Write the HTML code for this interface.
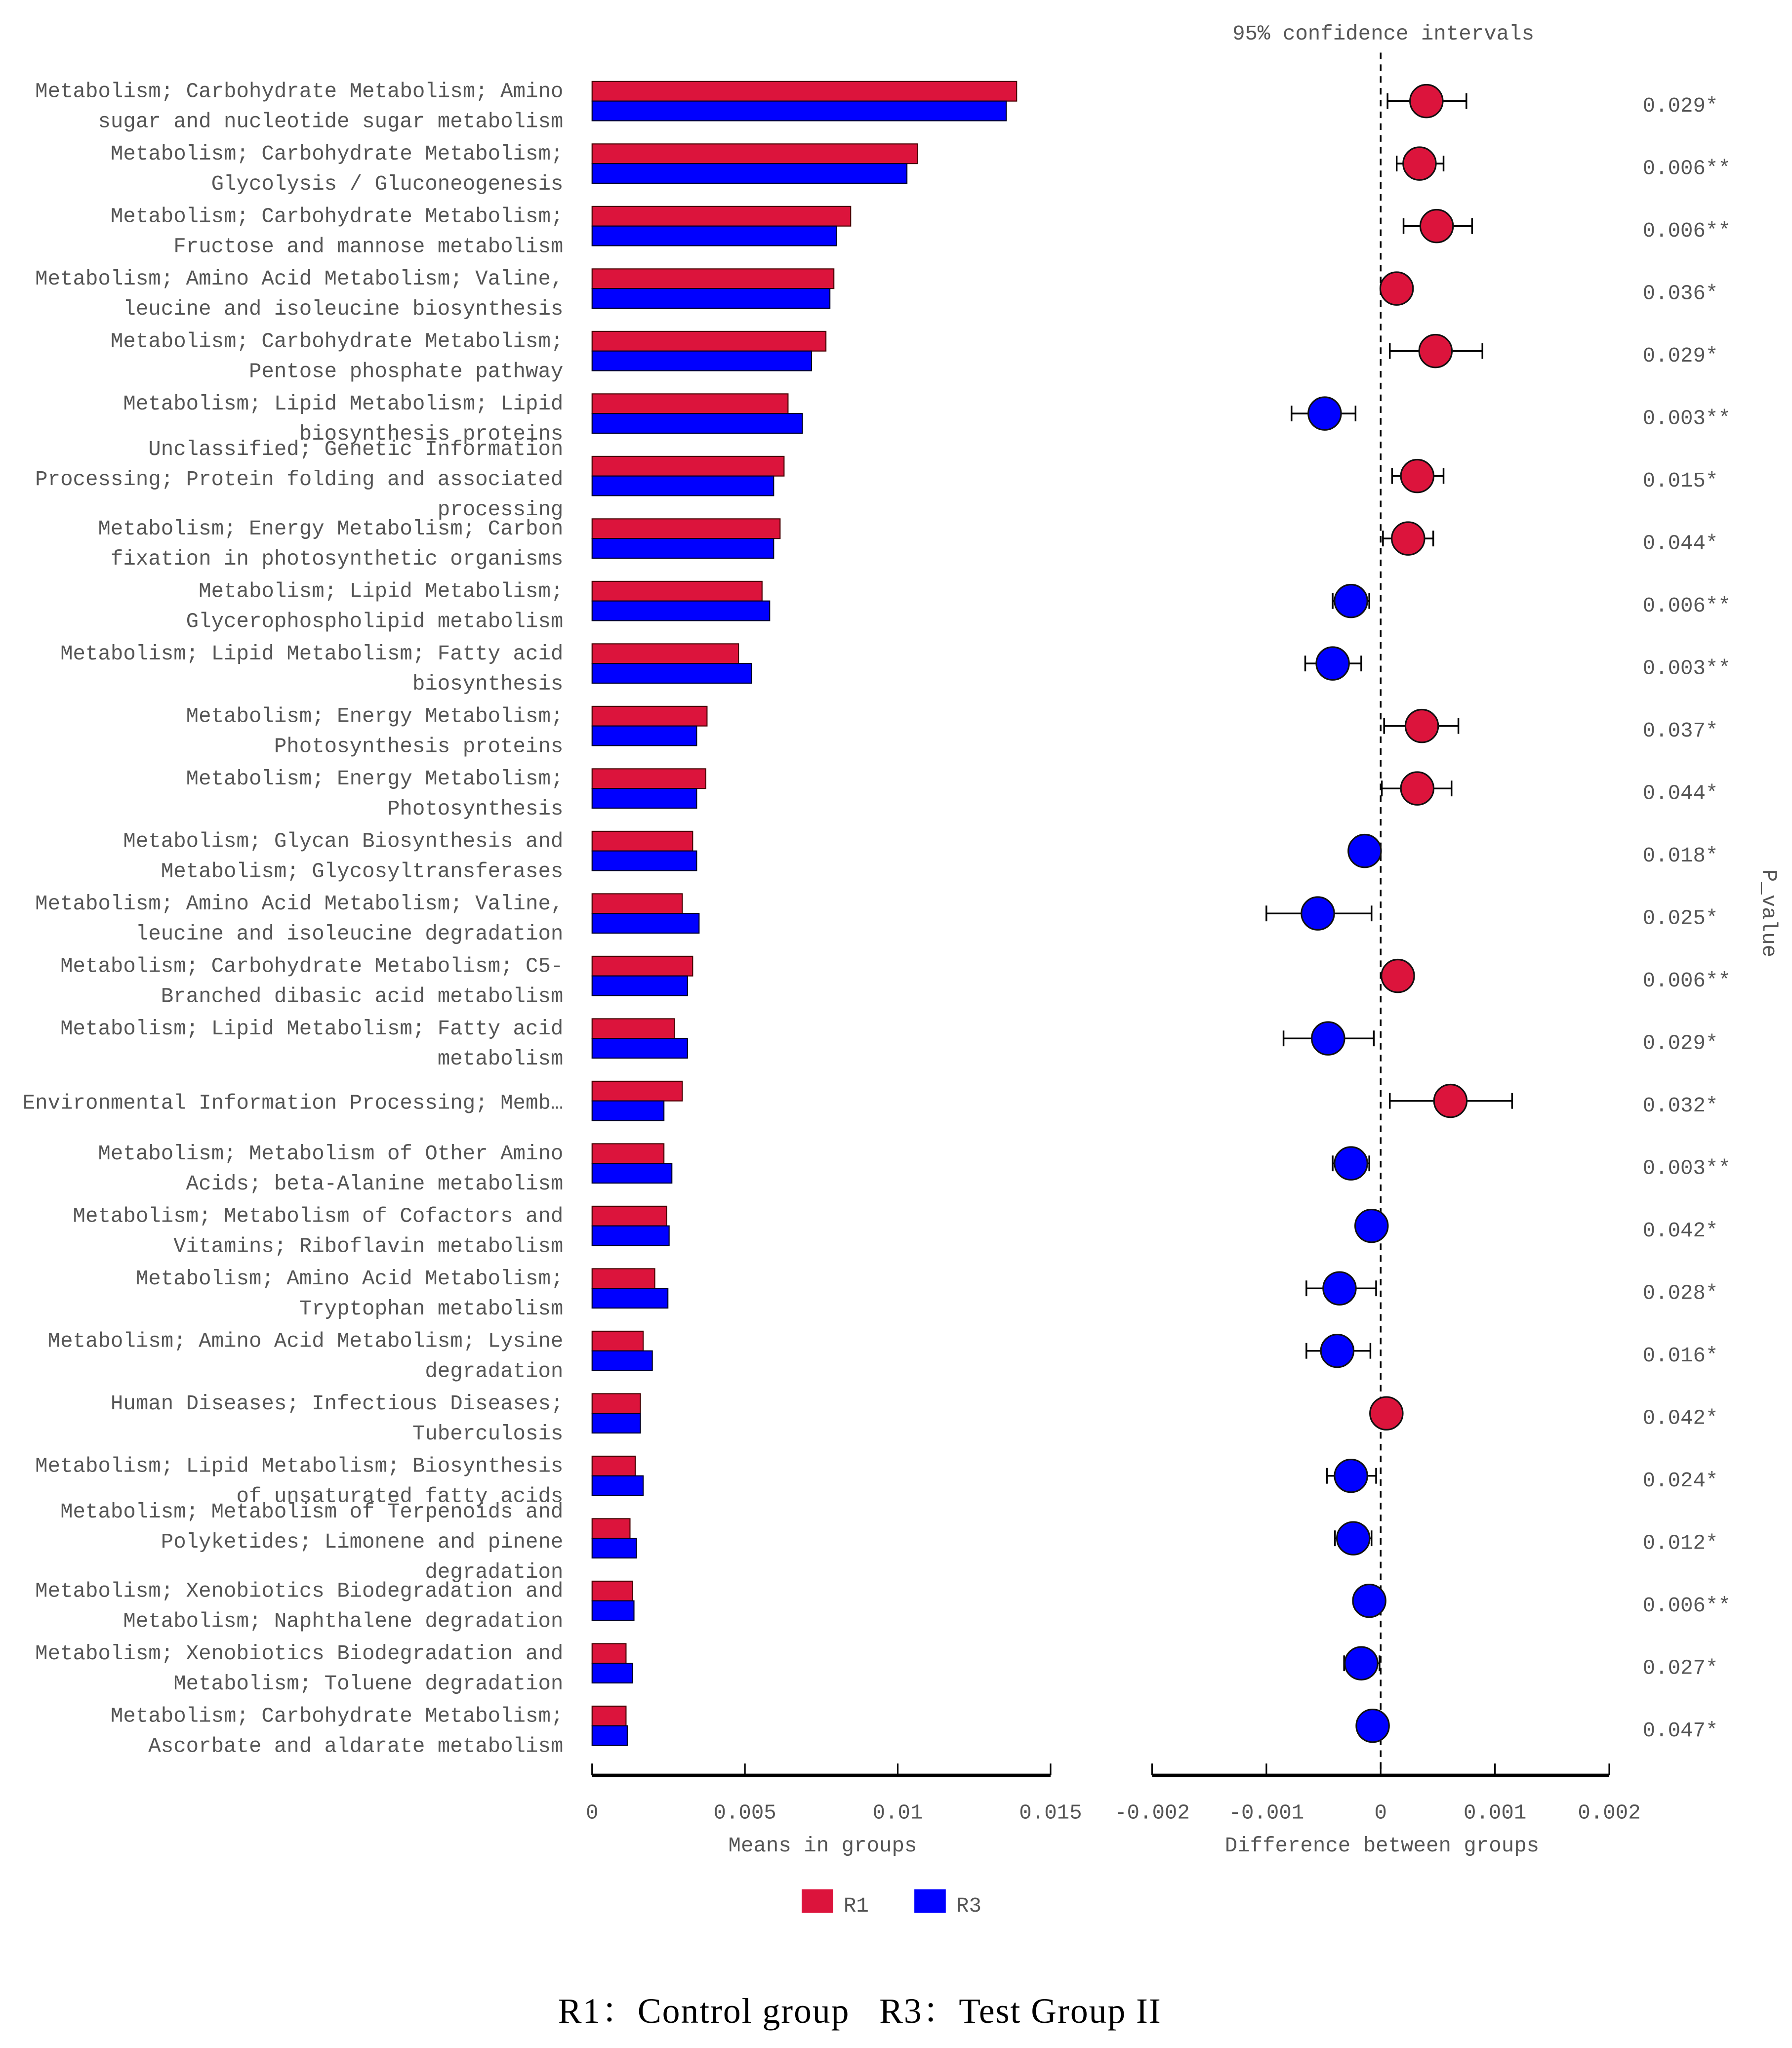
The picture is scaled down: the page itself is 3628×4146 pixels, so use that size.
<!DOCTYPE html>
<html><head><meta charset="utf-8"><style>
html,body{margin:0;padding:0;background:#fff;}
svg{display:block;}
text{font-family:"Liberation Mono","Noto Sans CJK SC",monospace;fill:#555;}
</style></head><body>
<svg id="chart" width="3628" height="4146" viewBox="0 0 1368 1563" xmlns="http://www.w3.org/2000/svg">
<g id="g"></g>
</svg>
<script>
const labels1 = ["Metabolism; Carbohydrate Metabolism; Amino","Metabolism; Carbohydrate Metabolism;","Metabolism; Carbohydrate Metabolism;","Metabolism; Amino Acid Metabolism; Valine,","Metabolism; Carbohydrate Metabolism;","Metabolism; Lipid Metabolism; Lipid","Unclassified; Genetic Information","Metabolism; Energy Metabolism; Carbon","Metabolism; Lipid Metabolism;","Metabolism; Lipid Metabolism; Fatty acid","Metabolism; Energy Metabolism;","Metabolism; Energy Metabolism;","Metabolism; Glycan Biosynthesis and","Metabolism; Amino Acid Metabolism; Valine,","Metabolism; Carbohydrate Metabolism; C5-","Metabolism; Lipid Metabolism; Fatty acid","Environmental Information Processing; Memb\u2026","Metabolism; Metabolism of Other Amino","Metabolism; Metabolism of Cofactors and","Metabolism; Amino Acid Metabolism;","Metabolism; Amino Acid Metabolism; Lysine","Human Diseases; Infectious Diseases;","Metabolism; Lipid Metabolism; Biosynthesis","Metabolism; Metabolism of Terpenoids and","Metabolism; Xenobiotics Biodegradation and","Metabolism; Xenobiotics Biodegradation and","Metabolism; Carbohydrate Metabolism;"];
const labels2 = ["sugar and nucleotide sugar metabolism","Glycolysis / Gluconeogenesis","Fructose and mannose metabolism","leucine and isoleucine biosynthesis","Pentose phosphate pathway","biosynthesis proteins","Processing; Protein folding and associated","fixation in photosynthetic organisms","Glycerophospholipid metabolism","biosynthesis","Photosynthesis proteins","Photosynthesis","Metabolism; Glycosyltransferases","leucine and isoleucine degradation","Branched dibasic acid metabolism","metabolism","","Acids; beta-Alanine metabolism","Vitamins; Riboflavin metabolism","Tryptophan metabolism","degradation","Tuberculosis","of unsaturated fatty acids","Polyketides; Limonene and pinene","Metabolism; Naphthalene degradation","Metabolism; Toluene degradation","Ascorbate and aldarate metabolism"];
const labels3 = {6:"processing",23:"degradation"};
const meanR1 = [0.01389,0.01064,0.00846,0.00791,0.00765,0.00641,0.00628,0.00615,0.00556,0.00479,0.00376,0.00372,0.00329,0.00295,0.00329,0.00269,0.00295,0.00235,0.00244,0.00205,0.00167,0.00158,0.00141,0.00124,0.00132,0.00111,0.00111];
const meanR3 = [0.01355,0.0103,0.00799,0.00778,0.00718,0.00688,0.00594,0.00594,0.00581,0.00521,0.00342,0.00342,0.00342,0.0035,0.00312,0.00312,0.00235,0.00261,0.00252,0.00248,0.00197,0.00158,0.00167,0.00145,0.00137,0.00132,0.00115];
const diff = [0.0004,0.00034,0.00049,0.00014,0.00048,-0.00049,0.00032,0.00024,-0.00026,-0.00042,0.00036,0.00032,-0.00014,-0.00055,0.00015,-0.00046,0.00061,-0.00026,-0.00008,-0.00036,-0.00038,0.00005,-0.00026,-0.00024,-0.0001,-0.00017,-0.00007];
const ciLow = [0.00006,0.00014,0.0002,0.00006,0.00008,-0.00078,0.0001,0.00002,-0.00042,-0.00066,0.00003,0.00001,-0.00025,-0.001,0.00006,-0.00085,0.00008,-0.00042,-0.00017,-0.00065,-0.00065,-0.00003,-0.00047,-0.0004,-0.0002,-0.00032,-0.00015];
const ciHigh = [0.00075,0.00055,0.0008,0.00023,0.00089,-0.00022,0.00055,0.00046,-0.0001,-0.00017,0.00068,0.00062,-0.00002,-0.00008,0.00024,-0.00006,0.00115,-0.0001,0.00001,-0.00004,-0.00009,0.00013,-0.00004,-0.00008,-0.00001,-0.00001,0.00001];
const pvals = ["0.029*","0.006**","0.006**","0.036*","0.029*","0.003**","0.015*","0.044*","0.006**","0.003**","0.037*","0.044*","0.018*","0.025*","0.006**","0.029*","0.032*","0.003**","0.042*","0.028*","0.016*","0.042*","0.024*","0.012*","0.006**","0.027*","0.047*"];
const meanTicks = [0,0.005,0.01,0.015];
const meanTickLabels = ["0","0.005","0.01","0.015"];
const diffTicks = [-0.002,-0.001,0,0.001,0.002];
const diffTickLabels = ["-0.002","-0.001","0","0.001","0.002"];

const RED="#dc143c", BLUE="#0000ff";
const xm = v => 452 + v/0.015*350;
const xd = v => 1054 + v/0.004*349;
const yr = i => 77 + i*47.7;
const g = document.getElementById('g');
const NS="http://www.w3.org/2000/svg";
function mk(tag, attrs, txt){const e=document.createElementNS(NS,tag);for(const k in attrs)e.setAttribute(k,attrs[k]);if(txt!==undefined)e.textContent=txt;g.appendChild(e);return e;}

let t=mk('text',{x:1056,y:30,'text-anchor':'middle','font-size':16},'95% confidence intervals');



let dl=mk('line',{x1:xd(0),x2:xd(0),y1:40,y2:1350,stroke:'#000','stroke-width':1.3,'stroke-dasharray':'5,4'});



for(let i=0;i<meanR1.length;i++){
  const y=yr(i);
  if(labels2[i]===""){
    let a=mk('text',{x:430,y:y+6,'text-anchor':'end','font-size':16},labels1[i]);
    
    
  } else {
    const off = labels3[i] ? -13 : 0;
    let a=mk('text',{x:430,y:y-3+off,'text-anchor':'end','font-size':16},labels1[i]);
    
    
    let b=mk('text',{x:430,y:y+20+off,'text-anchor':'end','font-size':16},labels2[i]);
    
    
    if(labels3[i]){let c=mk('text',{x:430,y:y+43+off,'text-anchor':'end','font-size':16},labels3[i]);
      
      }
  }
  let r=mk('rect',{x:xm(0),y:y-15,width:xm(meanR1[i])-xm(0),height:15,fill:RED,stroke:'#400','stroke-width':0.8});
  
  
  let bb=mk('rect',{x:xm(0),y:y,width:xm(meanR3[i])-xm(0),height:15,fill:BLUE,stroke:'#002','stroke-width':0.8});
  
  
  const col = diff[i]>=0?RED:BLUE;
  let eb=mk('path',{d:`M${xd(ciLow[i])},${y}H${xd(ciHigh[i])}M${xd(ciLow[i])},${y-6}V${y+6}M${xd(ciHigh[i])},${y-6}V${y+6}`,stroke:'#000','stroke-width':1.3,fill:'none'});
  
  
  let c=mk('circle',{cx:xd(diff[i]),cy:y,r:12.5,fill:col,stroke:'#111','stroke-width':1.2});
  
  
  let p=mk('text',{x:1254,y:y+8,'font-size':16},pvals[i]);
  
  
}
let ax1=mk('line',{x1:xm(0),x2:xm(0.015),y1:1355,y2:1355,stroke:'#000','stroke-width':2.5});


meanTicks.forEach((v,k)=>{
  let tk=mk('line',{x1:xm(v),x2:xm(v),y1:1346,y2:1355,stroke:'#000','stroke-width':1.2});
  
  
  let tl=mk('text',{x:xm(v),y:1388,'text-anchor':'middle','font-size':16},meanTickLabels[k]);
  
  
});
let ax2=mk('line',{x1:xd(-0.002),x2:xd(0.002),y1:1355,y2:1355,stroke:'#000','stroke-width':2.5});


diffTicks.forEach((v,k)=>{
  let tk=mk('line',{x1:xd(v),x2:xd(v),y1:1346,y2:1355,stroke:'#000','stroke-width':1.2});
  
  
  let tl=mk('text',{x:xd(v),y:1388,'text-anchor':'middle','font-size':16},diffTickLabels[k]);
  
  
});
let xt1=mk('text',{x:628,y:1413,'text-anchor':'middle','font-size':16},'Means in groups');


let xt2=mk('text',{x:1055,y:1413,'text-anchor':'middle','font-size':16},'Difference between groups');


let pv=mk('text',{x:1346,y:697,'text-anchor':'middle','font-size':16,transform:'rotate(90 1346 697)'},'P_value');


let l1=mk('rect',{x:612,y:1442,width:24,height:18,fill:RED});


let l1t=mk('text',{x:644,y:1459,'font-size':16},'R1');


let l3=mk('rect',{x:698,y:1442,width:24,height:18,fill:BLUE});


let l3t=mk('text',{x:730,y:1459,'font-size':16},'R3');


let cap=mk('text',{x:426,y:1544,'font-size':27,textLength:460,lengthAdjust:'spacing',style:'white-space:pre;font-family:"Liberation Serif","Noto Serif CJK SC",serif;fill:#000'},'R1：Control group   R3：Test Group II');


</script>
</body></html>
